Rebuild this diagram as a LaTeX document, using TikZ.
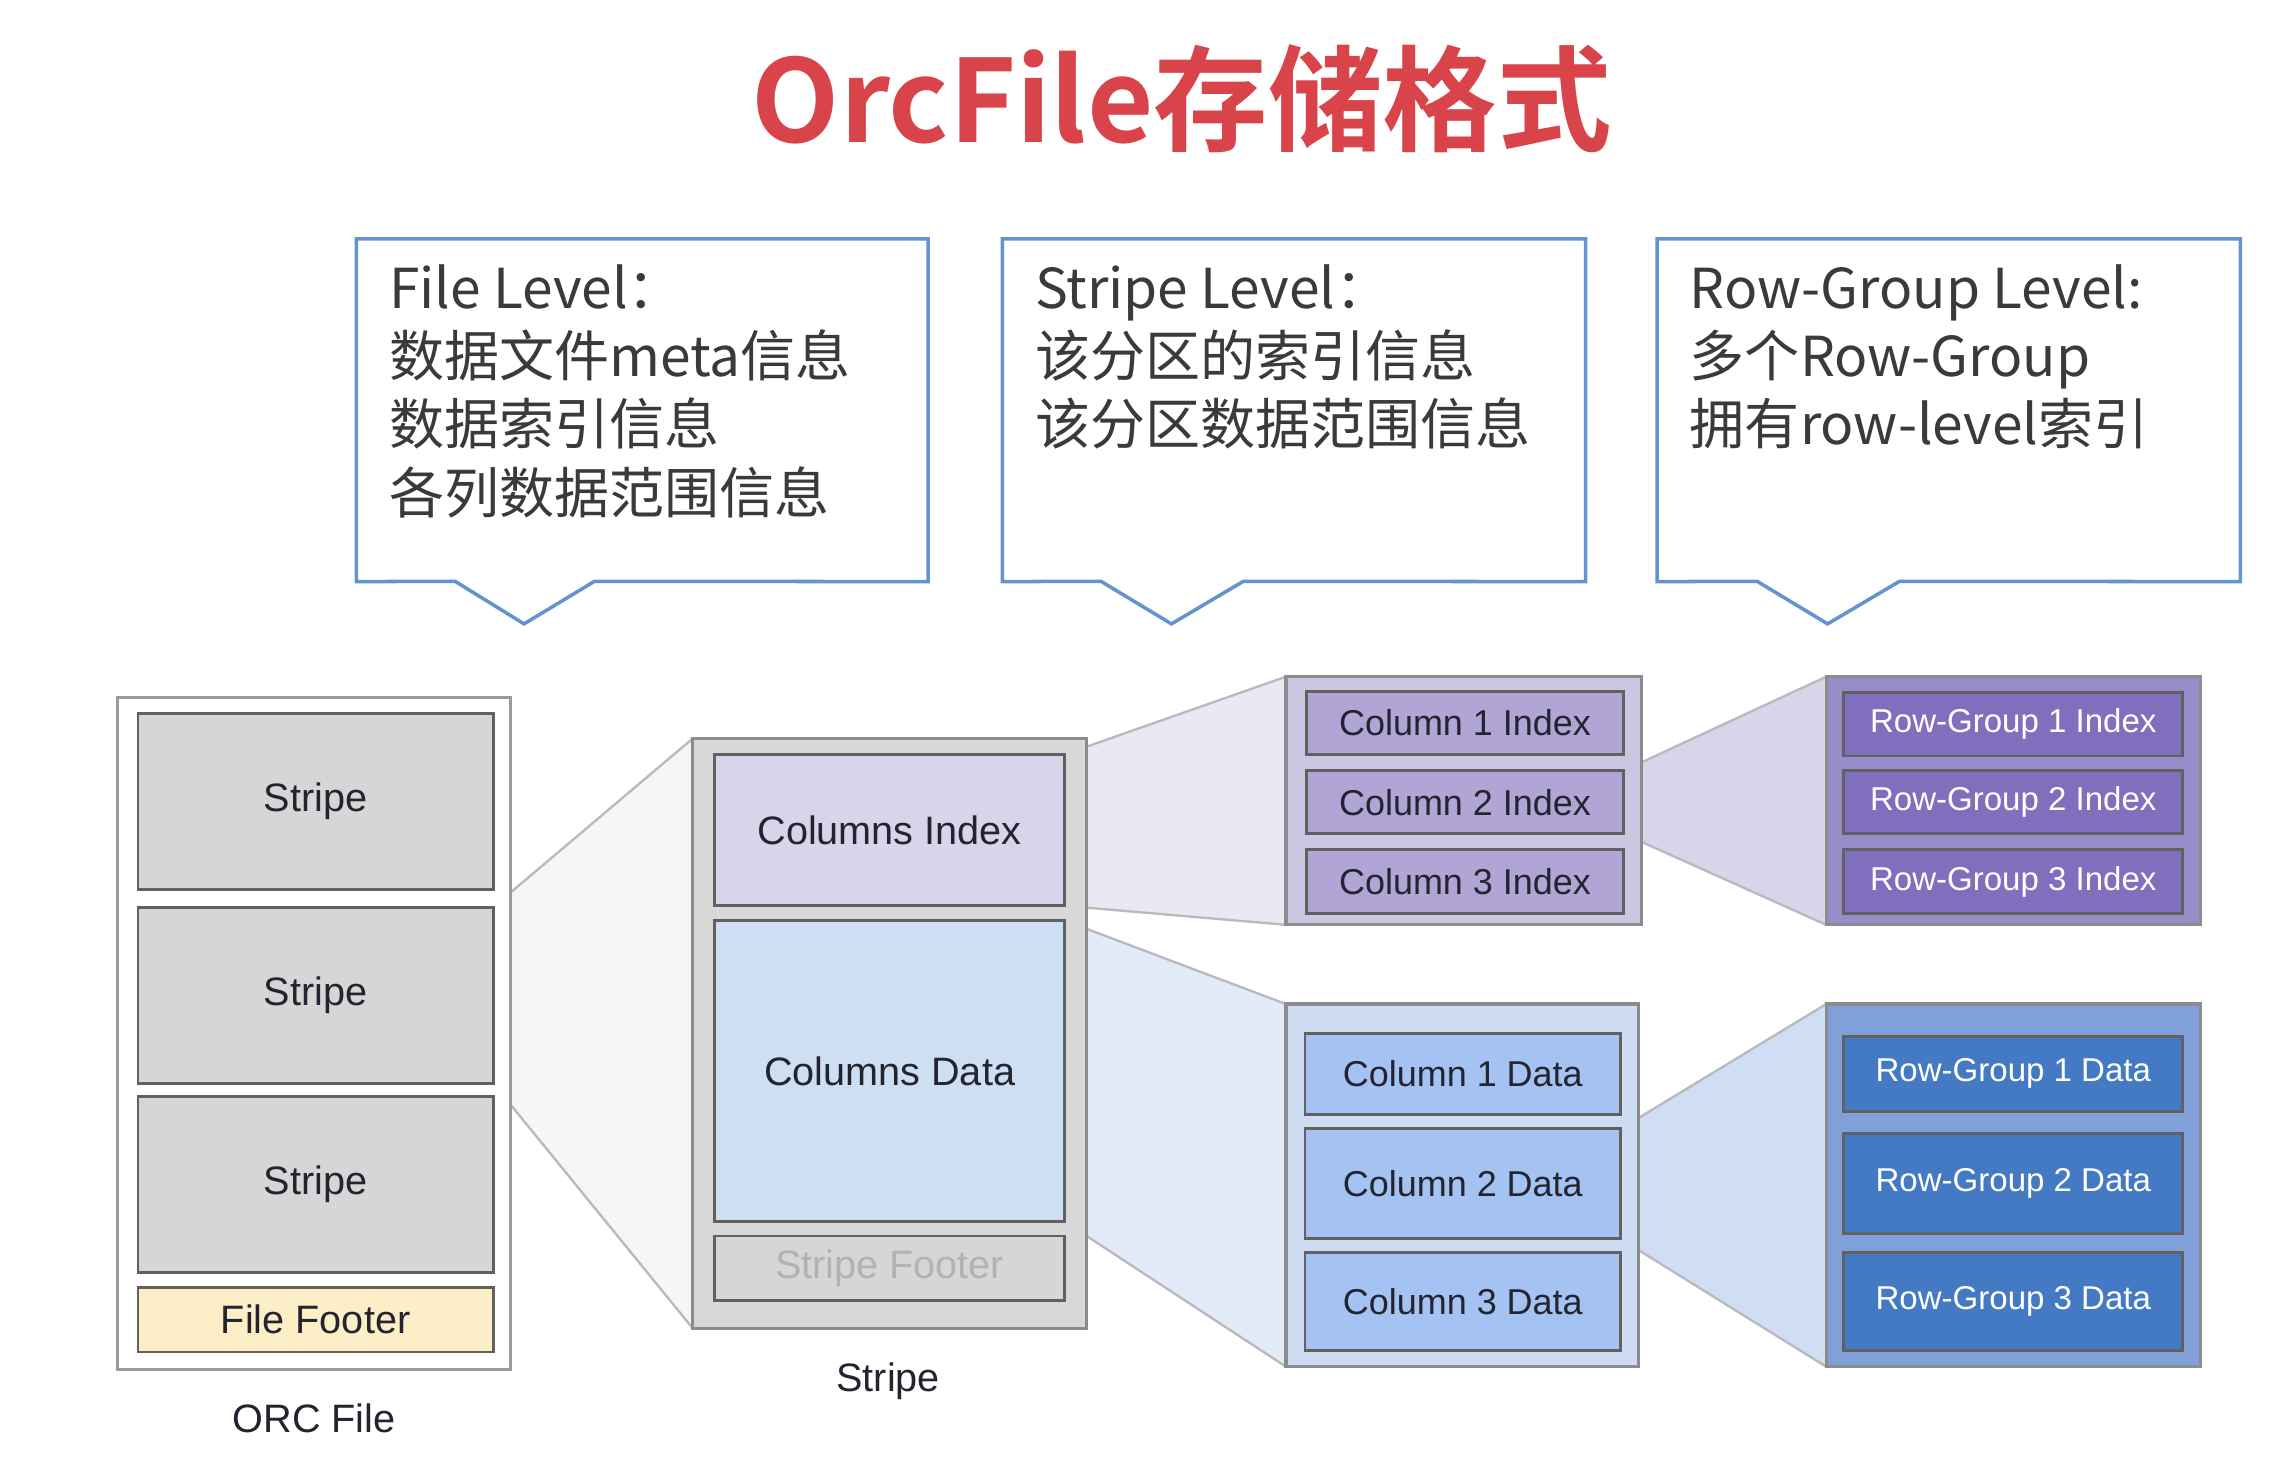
\documentclass[tikz,border=0pt]{standalone}
\usepackage{fontspec}
\setmainfont{Liberation Sans}
\newfontfamily\cjk[BoldFont={Noto Sans CJK SC Bold}]{Noto Sans CJK SC}
\pgfdeclarelayer{bg}
\pgfdeclarelayer{fan}
\pgfsetlayers{bg,fan,main}
\definecolor{titlered}{RGB}{217,68,74}
\definecolor{callblue}{RGB}{100,148,208}
\definecolor{calltext}{RGB}{58,58,62}
\definecolor{boxtext}{RGB}{36,36,48}
\definecolor{stripegray}{RGB}{214,214,214}
\definecolor{footyellow}{RGB}{252,238,198}
\definecolor{souter}{RGB}{216,216,216}
\definecolor{ciFill}{RGB}{218,212,234}
\definecolor{cdFill}{RGB}{206,223,243}
\definecolor{cigOuter}{RGB}{204,198,227}
\definecolor{cigInner}{RGB}{176,165,213}
\definecolor{cdgOuter}{RGB}{205,219,243}
\definecolor{cdgInner}{RGB}{165,195,242}
\definecolor{rigOuter}{RGB}{152,140,201}
\definecolor{rigInner}{RGB}{127,111,188}
\definecolor{rdgOuter}{RGB}{128,160,218}
\definecolor{rdgInner}{RGB}{68,122,196}
\definecolor{fanGray}{RGB}{246,246,246}
\definecolor{fanLav}{RGB}{234,232,242}
\definecolor{fanBlue}{RGB}{226,235,248}
\definecolor{fanLav2}{RGB}{216,212,234}
\definecolor{fanBlue2}{RGB}{208,222,244}
\definecolor{fanLine}{RGB}{185,185,190}
\newcommand\mybox[7]{\node[#6, minimum width={#4-#2}, minimum height={#5-#3}] (#1) at ({(#2+#4)/2},{(#3+#5)/2}) {#7};}
\tikzset{
  base/.style={draw, rectangle, inner sep=0pt, outer sep=0pt, line width=2pt, font=\fontsize{27}{30}\selectfont, text=boxtext},
  outerbox/.style={base, draw=black!45, line width=2.2pt},
  innerbox/.style={base, draw=black!62},
  smalltext/.style={font=\fontsize{24.5}{28}\selectfont},
  rgtext/.style={font=\fontsize{22.5}{26}\selectfont, text=white},
  callline/.style={draw=callblue, line width=2.4pt, line join=miter, fill=white},
  calltxt/.style={font=\cjk\fontsize{37.5}{46.5}\selectfont, text=calltext, align=left, inner sep=0pt, anchor=north west},
  fanedge/.style={draw=fanLine, line width=1.6pt},
  caption/.style={font=\fontsize{27}{30}\selectfont, text=boxtext, inner sep=0pt}
}
\begin{document}
\begin{tikzpicture}[x=1pt,y=-1pt]
\begin{pgfonlayer}{bg}
\fill[white] (0,0) rectangle (1560,992);
\end{pgfonlayer}
\useasboundingbox (0,0) rectangle (1560,992);

% title
\node[font=\cjk\bfseries\fontsize{78}{88}\selectfont, text=titlered, inner sep=0pt] (title) at (805,67) {OrcFile存储格式};

% callouts
\node[inner sep=0pt, minimum width=389, minimum height=233] (c1) at (437.5,279.5) {};
\node[inner sep=0pt, minimum width=397, minimum height=233] (c2) at (881.5,279.5) {};
\node[inner sep=0pt, minimum width=397, minimum height=233] (c3) at (1327.5,279.5) {};
\coordinate (t1) at (357,425);
\coordinate (t2) at (798,425);
\coordinate (t3) at (1245,425);
\path[callline] (c1.north west) -- (c1.north east) -- (c1.south east) -- (405,396) -- (t1) -- (310,396) -- (c1.south west) -- cycle;
\path[callline] (c2.north west) -- (c2.north east) -- (c2.south east) -- (847,396) -- (t2) -- (750,396) -- (c2.south west) -- cycle;
\path[callline] (c3.north west) -- (c3.north east) -- (c3.south east) -- (1294,396) -- (t3) -- (1197,396) -- (c3.south west) -- cycle;
\node[calltxt] (ct1) at (265,180) {File Level：\\数据文件meta信息\\数据索引信息\\各列数据范围信息};
\node[calltxt] (ct2) at (705,180) {Stripe Level：\\该分区的索引信息\\该分区数据范围信息};
\node[calltxt] (ct3) at (1151,180) {Row-Group Level:\\多个Row-Group\\拥有row-level索引};

% ORC file
\mybox{orc}{80}{475}{348}{933}{outerbox, fill=white, draw=black!40}{}
\mybox{s1}{94}{486}{336}{606}{innerbox, fill=stripegray}{Stripe}
\mybox{s2}{94}{618}{336}{738}{innerbox, fill=stripegray}{Stripe}
\mybox{s3}{94}{747}{336}{867}{innerbox, fill=stripegray}{Stripe}
\mybox{ff}{94}{877}{336}{921}{innerbox, fill=footyellow}{File Footer}
\node[caption] (orclabel) at (214,966) {ORC File};

% Stripe
\mybox{so}{472}{503}{740}{905}{outerbox, fill=souter}{}
\mybox{ci}{487}{514}{725}{617}{innerbox, fill=ciFill}{Columns Index}
\mybox{cd}{487}{627}{725}{832}{innerbox, fill=cdFill}{Columns Data}
\mybox{sf}{487}{842}{725}{886}{innerbox, fill=stripegray, text=black!30}{Stripe Footer}
\node[caption] (stripelabel) at (605,941) {Stripe};

% column index group
\mybox{cig}{876}{461}{1118}{630}{outerbox, fill=cigOuter}{}
\mybox{ci1}{890}{471}{1106}{514}{innerbox, smalltext, fill=cigInner}{Column 1 Index}
\mybox{ci2}{890}{525}{1106}{568}{innerbox, smalltext, fill=cigInner}{Column 2 Index}
\mybox{ci3}{890}{579}{1106}{622}{innerbox, smalltext, fill=cigInner}{Column 3 Index}

% column data group
\mybox{cdg}{876}{684}{1116}{931}{outerbox, fill=cdgOuter}{}
\mybox{cd1}{889}{704}{1104}{759}{innerbox, smalltext, fill=cdgInner}{Column 1 Data}
\mybox{cd2}{889}{769}{1104}{844}{innerbox, smalltext, fill=cdgInner}{Column 2 Data}
\mybox{cd3}{889}{853}{1104}{920}{innerbox, smalltext, fill=cdgInner}{Column 3 Data}

% row-group index group
\mybox{rig}{1244}{461}{1499}{630}{outerbox, fill=rigOuter}{}
\mybox{ri1}{1256}{472}{1487}{515}{innerbox, rgtext, fill=rigInner}{Row-Group 1 Index}
\mybox{ri2}{1256}{525}{1487}{568}{innerbox, rgtext, fill=rigInner}{Row-Group 2 Index}
\mybox{ri3}{1256}{579}{1487}{622}{innerbox, rgtext, fill=rigInner}{Row-Group 3 Index}

% row-group data group
\mybox{rdg}{1244}{684}{1499}{931}{outerbox, fill=rdgOuter}{}
\mybox{rd1}{1256}{706}{1487}{757}{innerbox, rgtext, fill=rdgInner}{Row-Group 1 Data}
\mybox{rd2}{1256}{772}{1487}{840}{innerbox, rgtext, fill=rdgInner}{Row-Group 2 Data}
\mybox{rd3}{1256}{853}{1487}{920}{innerbox, rgtext, fill=rdgInner}{Row-Group 3 Data}

% fans
\begin{pgfonlayer}{fan}
\fill[fanGray] (s2.north east) -- (so.north west) -- (so.south west) -- (s2.south east) -- cycle;
\draw[fanedge] (s2.north east) -- (so.north west);
\draw[fanedge] (s2.south east) -- (so.south west);
\fill[fanLav] (ci.north east) -- (cig.north west) -- (cig.south west) -- (ci.south east) -- cycle;
\draw[fanedge] (ci.north east) -- (cig.north west);
\draw[fanedge] (ci.south east) -- (cig.south west);
\fill[fanBlue] (cd.north east) -- (cdg.north west) -- (cdg.south west) -- (cd.south east) -- cycle;
\draw[fanedge] (cd.north east) -- (cdg.north west);
\draw[fanedge] (cd.south east) -- (cdg.south west);
\fill[fanLav2] (ci2.north east) -- (rig.north west) -- (rig.south west) -- (ci2.south east) -- cycle;
\draw[fanedge] (ci2.north east) -- (rig.north west);
\draw[fanedge] (ci2.south east) -- (rig.south west);
\fill[fanBlue2] (cd2.north east) -- (rdg.north west) -- (rdg.south west) -- (cd2.south east) -- cycle;
\draw[fanedge] (cd2.north east) -- (rdg.north west);
\draw[fanedge] (cd2.south east) -- (rdg.south west);
\end{pgfonlayer}
\end{tikzpicture}
\end{document}
